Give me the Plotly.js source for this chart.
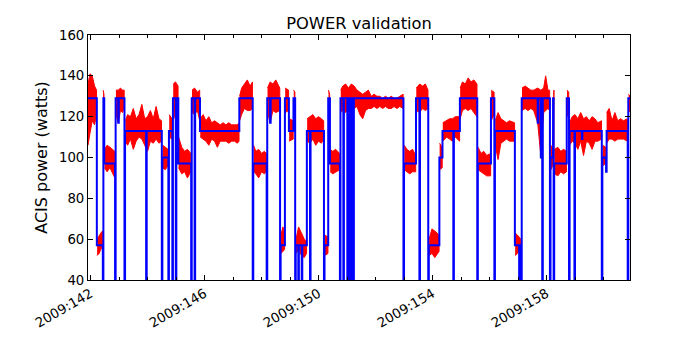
<!DOCTYPE html>
<html>
<head>
<meta charset="utf-8">
<script src="https://cdn.plot.ly/plotly-3.0.1.min.js"></script>
<style>
  html, body { margin: 0; padding: 0; background: #fff; }
  #chart { width: 700px; height: 350px; }
</style>
</head>
<body>
<div id="chart"></div>
<script>
// model power (blue) - step changes, x = 2009 day of year, 0 = dropout below the axis
const modelDay = [
  141.91, 142.22, 142.43, 142.45, 142.48, 142.86, 142.88, 142.97, 142.99, 143.19,
  143.21, 143.95, 143.97, 144.50, 144.52, 144.73, 144.75, 144.87, 144.89, 144.99,
  145.01, 145.08, 145.53, 145.55, 145.65, 145.67, 145.84, 147.22, 147.69, 147.71,
  148.18, 148.20, 148.30, 148.32, 148.65, 148.67, 148.82, 148.96, 149.12, 149.18,
  149.20, 149.29, 149.31, 149.41, 149.43, 149.59, 149.70, 149.72, 150.19, 150.21,
  150.34, 150.40, 150.75, 150.77, 150.87, 150.89, 151.01, 151.03, 151.07, 151.09,
  151.16, 151.18, 151.22, 151.24, 152.98, 153.00, 153.42, 153.54, 153.56, 153.85,
  153.87, 154.24, 154.35, 154.73, 154.75, 154.96, 155.57, 155.59, 156.05, 156.17,
  156.19, 156.89, 157.04, 157.06, 157.11, 157.13, 157.69, 157.71, 157.80, 157.82,
  157.85, 157.87, 158.12, 158.14, 158.23, 158.25, 158.27, 158.71, 158.79, 158.81,
  158.98, 159.00, 159.24, 159.26, 159.94, 159.96, 160.09, 160.11, 160.85, 160.87,
  160.93
];
const modelWatts = [
  129, 57, 0, 129, 97, 0, 129, 117, 129, 0,
  113, 0, 113, 0, 100, 0, 113, 0, 129, 0,
  129, 97, 0, 129, 0, 129, 113, 129, 0, 97,
  0, 129, 117, 129, 0, 57, 129, 113, 129, 0,
  57, 0, 57, 0, 57, 113, 0, 113, 0, 57,
  129, 97, 0, 129, 0, 129, 0, 129, 0, 129,
  0, 129, 0, 129, 0, 97, 129, 0, 129, 0,
  57, 100, 113, 0, 113, 129, 0, 97, 129, 0,
  113, 57, 0, 57, 0, 129, 117, 129, 100, 129,
  0, 129, 0, 100, 129, 0, 97, 129, 0, 113,
  0, 113, 109, 113, 0, 100, 93, 113, 0, 129,
  129
];

// telemetry (red) - upper / lower edge of the noisy trace, null = gap
const telemDay = [
  141.91, 141.98, 142.06, 142.14, 142.21, null,
  142.23, 142.30, 142.36, 142.42, null,
  142.44, 142.47, null,
  142.49, 142.58, 142.68, 142.78, 142.85, null,
  142.89, 142.97, 143.05, 143.12, 143.18, null,
  143.22, 143.30, 143.40, 143.50, 143.60, 143.70, 143.80, 143.90, 144.00, 144.10, 144.20, 144.30, 144.40, 144.49, null,
  144.53, 144.62, 144.72, null,
  144.76, 144.86, null,
  144.90, 144.98, 145.07, null,
  145.09, 145.20, 145.30, 145.40, 145.52, null,
  145.56, 145.65, 145.75, 145.83, null,
  145.85, 145.95, 146.05, 146.15, 146.25, 146.35, 146.45, 146.55, 146.65, 146.75, 146.85, 146.95, 147.05, 147.15, 147.21, null,
  147.23, 147.30, 147.40, 147.50, 147.60, 147.68, null,
  147.72, 147.80, 147.90, 148.00, 148.10, 148.17, null,
  148.21, 148.30, 148.40, 148.50, 148.64, null,
  148.68, 148.75, 148.81, null,
  148.83, 148.95, null,
  148.97, 149.11, null,
  149.13, 149.17, null,
  149.21, 149.30, 149.40, 149.50, 149.58, null,
  149.60, 149.70, 149.80, 149.90, 150.00, 150.10, 150.18, null,
  150.22, 150.33, null,
  150.35, 150.39, null,
  150.41, 150.50, 150.60, 150.74, null,
  150.78, 150.85, 150.95, 151.05, 151.15, 151.25, 151.35, 151.45, 151.55, 151.65, 151.75, 151.85, 151.95, 152.05, 152.15, 152.25, 152.35, 152.45, 152.55, 152.65, 152.75, 152.85, 152.97, null,
  153.01, 153.10, 153.20, 153.30, 153.41, null,
  153.43, 153.55, 153.65, 153.75, 153.84, null,
  153.88, 153.98, 154.08, 154.23, null,
  154.25, 154.34, null,
  154.36, 154.50, 154.60, 154.70, 154.80, 154.95, null,
  154.97, 155.05, 155.15, 155.25, 155.35, 155.45, 155.56, null,
  155.60, 155.70, 155.80, 155.90, 156.04, null,
  156.06, 156.16, null,
  156.20, 156.30, 156.40, 156.50, 156.60, 156.70, 156.88, null,
  156.90, 156.98, 157.10, null,
  157.14, 157.25, 157.35, 157.45, 157.55, 157.69, 157.80, 157.90, 157.97, 158.05, 158.11, null,
  158.15, 158.22, 158.26, null,
  158.28, 158.40, 158.50, 158.60, 158.70, null,
  158.72, 158.78, null,
  158.81, 158.90, 159.00, 159.10, 159.20, 159.30, 159.40, 159.50, 159.60, 159.70, 159.80, 159.93, null,
  159.97, 160.08, null,
  160.11, 160.20, 160.30, 160.40, 160.50, 160.60, 160.70, 160.84, null,
  160.88, 160.93
];
const telemHigh = [
  136, 141, 140, 135, 133, null,
  60, 62, 63, 64, null,
  133, 131, null,
  104, 106, 105, 104, 103, null,
  133, 133, 134, 133, 133, null,
  118, 121, 120, 124, 119, 121, 126, 119, 120, 123, 119, 125, 119, 118, null,
  106, 105, 104, null,
  121, 119, null,
  136, 137, 135, null,
  110, 105, 103, 104, 102, null,
  133, 134, 132, 133, null,
  119, 121, 118, 120, 117, 118, 117, 116, 117, 116, 117, 116, 116, 116, 117, null,
  130, 134, 136, 138, 135, 137, null,
  106, 103, 104, 102, 103, 102, null,
  134, 137, 136, 138, 134, null,
  62, 66, 63, null,
  134, 133, null,
  119, 118, null,
  133, 132, null,
  60, 66, 63, 60, 59, null,
  119, 120, 121, 119, 120, 119, 118, null,
  62, 61, null,
  133, 131, null,
  104, 103, 104, 102, null,
  133, 135, 136, 134, 136, 135, 133, 132, 131, 132, 133, 130, 131, 130, 130, 129, 130, 129, 130, 129, 129, 130, 131, null,
  106, 104, 103, 104, 101, null,
  134, 136, 135, 136, 133, null,
  60, 65, 64, 62, null,
  107, 105, null,
  117, 118, 119, 119, 120, 120, null,
  134, 137, 136, 139, 137, 138, 136, null,
  105, 102, 103, 101, 102, null,
  133, 132, null,
  118, 122, 119, 118, 117, 118, 117, null,
  63, 62, 60, null,
  134, 135, 134, 133, 133, 134, 133, 134, 140, 133, 133, null,
  106, 105, 133, null,
  104, 105, 103, 104, 103, null,
  133, 132, null,
  117, 120, 121, 119, 122, 119, 120, 118, 120, 119, 117, 118, null,
  106, 105, null,
  122, 124, 118, 122, 118, 119, 118, 119, null,
  131, 130
];
const telemLow = [
  106, 112, 118, 116, 121, null,
  52, 53, 55, 56, null,
  98, 100, null,
  95, 93, 95, 92, 90, null,
  121, 117, 123, 122, 124, null,
  108, 106, 109, 104, 108, 110, 109, 106, 103, 108, 107, 109, 107, 108, null,
  95, 94, 96, null,
  110, 109, null,
  118, 122, 115, null,
  95, 92, 93, 90, 93, null,
  122, 121, 123, 118, null,
  110, 109, 108, 106, 109, 108, 105, 108, 108, 108, 107, 108, 108, 107, 108, null,
  118, 121, 124, 123, 123, 124, null,
  93, 92, 90, 93, 92, 93, null,
  122, 117, 123, 122, 123, null,
  53, 54, 55, null,
  122, 123, null,
  108, 109, null,
  118, 120, null,
  53, 55, 52, 51, 53, null,
  108, 107, 109, 106, 108, 107, 109, null,
  52, 53, null,
  110, 112, null,
  93, 92, 93, 94, null,
  122, 123, 122, 124, 123, 124, 125, 121, 119, 123, 124, 124, 125, 124, 125, 124, 125, 124, 124, 125, 124, 125, 124, null,
  94, 93, 92, 93, 93, null,
  123, 122, 124, 123, 124, null,
  52, 53, 51, 54, null,
  94, 95, null,
  108, 110, 109, 108, 110, 108, null,
  119, 123, 124, 123, 124, 122, 120, null,
  94, 93, 92, 91, 91, null,
  118, 121, null,
  106, 99, 107, 108, 109, 108, 108, null,
  52, 53, 55, null,
  123, 124, 123, 124, 123, 117, 101, 122, 123, 124, 123, null,
  94, 96, 100, null,
  92, 91, 93, 92, 93, null,
  120, 121, null,
  106, 108, 107, 104, 108, 101, 108, 107, 104, 108, 108, 109, null,
  96, 97, null,
  107, 109, 109, 108, 109, 109, 109, 108, null,
  122, 123
];

const dayTicks = [142, 146, 150, 154, 158];
const dayLabels = ['2009:142', '2009:146', '2009:150', '2009:154', '2009:158'];

// turn each telemetry run into a closed band (upper edge forward, lower edge back)
const bandX = [];
const bandY = [];
let run = [];
function closeRun() {
  if (!run.length) return;
  run.forEach(i => { bandX.push(telemDay[i]); bandY.push(telemHigh[i]); });
  run.slice().reverse().forEach(i => { bandX.push(telemDay[i]); bandY.push(telemLow[i]); });
  bandX.push(null);
  bandY.push(null);
  run = [];
}
telemDay.forEach((d, i) => {
  if (d === null) closeRun();
  else run.push(i);
});
closeRun();

const telemTrace = {
  x: bandX, y: bandY, type: 'scatter', mode: 'lines',
  fill: 'toself', fillcolor: '#ff0000',
  line: { color: '#ff0000', width: 1 },
  hoverinfo: 'skip'
};
const modelTrace = {
  x: modelDay, y: modelWatts, type: 'scatter', mode: 'lines',
  line: { color: '#0000ff', width: 2, shape: 'hv' },
  hoverinfo: 'skip'
};

const layout = {
  width: 700, height: 350,
  margin: { l: 88, r: 70, t: 35, b: 70 },
  paper_bgcolor: 'white',
  plot_bgcolor: 'white',
  font: { family: 'DejaVu Sans, sans-serif', size: 13.3, color: 'black' },
  title: {
    text: 'POWER validation', font: { size: 16.3 },
    x: 0.5, xref: 'paper', xanchor: 'center',
    y: 1, yref: 'paper', yanchor: 'bottom', pad: { b: 6 }
  },
  showlegend: false,
  xaxis: {
    range: [141.91, 160.93],
    tickmode: 'array', tickvals: dayTicks, ticktext: dayLabels,
    tickangle: -30,
    ticks: 'inside', ticklen: 5, tickcolor: 'black',
    showline: true, linecolor: 'black', linewidth: 1, mirror: 'ticks',
    showgrid: false, zeroline: false,
    minor: { tickmode: 'linear', tick0: 142, dtick: 1, ticks: 'inside', ticklen: 3, tickcolor: 'black', showgrid: false }
  },
  yaxis: {
    range: [40, 160], tickmode: 'linear', tick0: 40, dtick: 20,
    ticks: 'inside', ticklen: 5, tickcolor: 'black',
    showline: true, linecolor: 'black', linewidth: 1, mirror: 'ticks',
    showgrid: false, zeroline: false,
    title: { text: 'ACIS power (watts)', standoff: 7 }
  }
};

Plotly.newPlot('chart', [telemTrace, modelTrace], layout, { staticPlot: true });
</script>
</body>
</html>
